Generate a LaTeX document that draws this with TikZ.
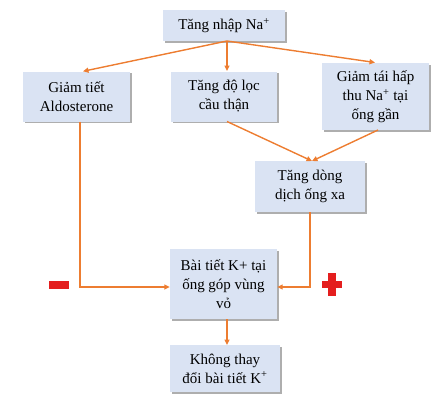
\documentclass[tikz,border=0pt]{standalone}
\usepackage{fontspec}
\setmainfont{Liberation Serif}
\usetikzlibrary{arrows.meta,shadows}
\definecolor{boxfill}{HTML}{DAE3F3}
\definecolor{arr}{HTML}{ED7D31}
\definecolor{sgn}{HTML}{E41E1E}
\tikzset{
  bx/.style={draw=none, fill=boxfill, align=center, inner sep=2pt,
    font=\fontsize{15}{19}\selectfont,
    drop shadow={shadow xshift=1.8pt, shadow yshift=-1.8pt, fill=black!45, opacity=0.7}},
  con/.style={draw=arr, line width=1.4pt, -{Triangle[length=5.5pt,width=5pt]}},
  plain/.style={draw=arr, line width=1.4pt}
}
\begin{document}
\begin{tikzpicture}[x=1pt,y=-1pt]
\useasboundingbox (0,0) rectangle (445,400);
\node[bx, minimum width=122pt, minimum height=31pt] (top) at (224,25.5) {Tăng nhập Na\textsuperscript{+}};
\node[bx, minimum width=107pt, minimum height=50pt] (ald) at (76.5,96.5) {Giảm tiết\\Aldosterone};
\node[bx, minimum width=106pt, minimum height=50pt] (loc) at (224,96.5) {Tăng độ lọc\\cầu thận};
\node[bx, minimum width=107pt, minimum height=67pt] (tai) at (375.5,96.5) {Giảm tái hấp\\thu Na\textsuperscript{+} tại\\ống gần};
\node[bx, minimum width=110pt, minimum height=51pt] (dong) at (310,186.5) {Tăng dòng\\dịch ống xa};
\node[bx, minimum width=107pt, minimum height=70pt] (bai) at (223.5,284) {Bài tiết K+ tại\\ống góp vùng\\vỏ};
\node[bx, minimum width=110pt, minimum height=47pt] (khong) at (225,368.5) {Không thay\\đổi bài tiết K\textsuperscript{+}};
\coordinate (ts) at (227,41);
\draw[con] (ts) -- (ald.north -| 83,0);
\draw[con] (ts) -- (227,71);
\draw[con] (ts) -- (375,62.5);
\draw[con] (227,121.5) -- (312,161);
\draw[con] (378,130) -- (312,161);
\draw[con] (80,121.5) |- (bai.west |- 0,287);
\draw[con] (310,212) |- (bai.east |- 0,287);
\draw[con] (227,319) -- (227,345);
\node[fill=sgn, minimum width=20pt, minimum height=8pt, inner sep=0pt] (minus) at (59,284.5) {};
\node[fill=sgn, minimum width=20pt, minimum height=7.5pt, inner sep=0pt] (plush) at (332,284.5) {};
\node[fill=sgn, minimum width=7.5pt, minimum height=23pt, inner sep=0pt] (plusv) at (332,284.5) {};
\end{tikzpicture}
\end{document}
